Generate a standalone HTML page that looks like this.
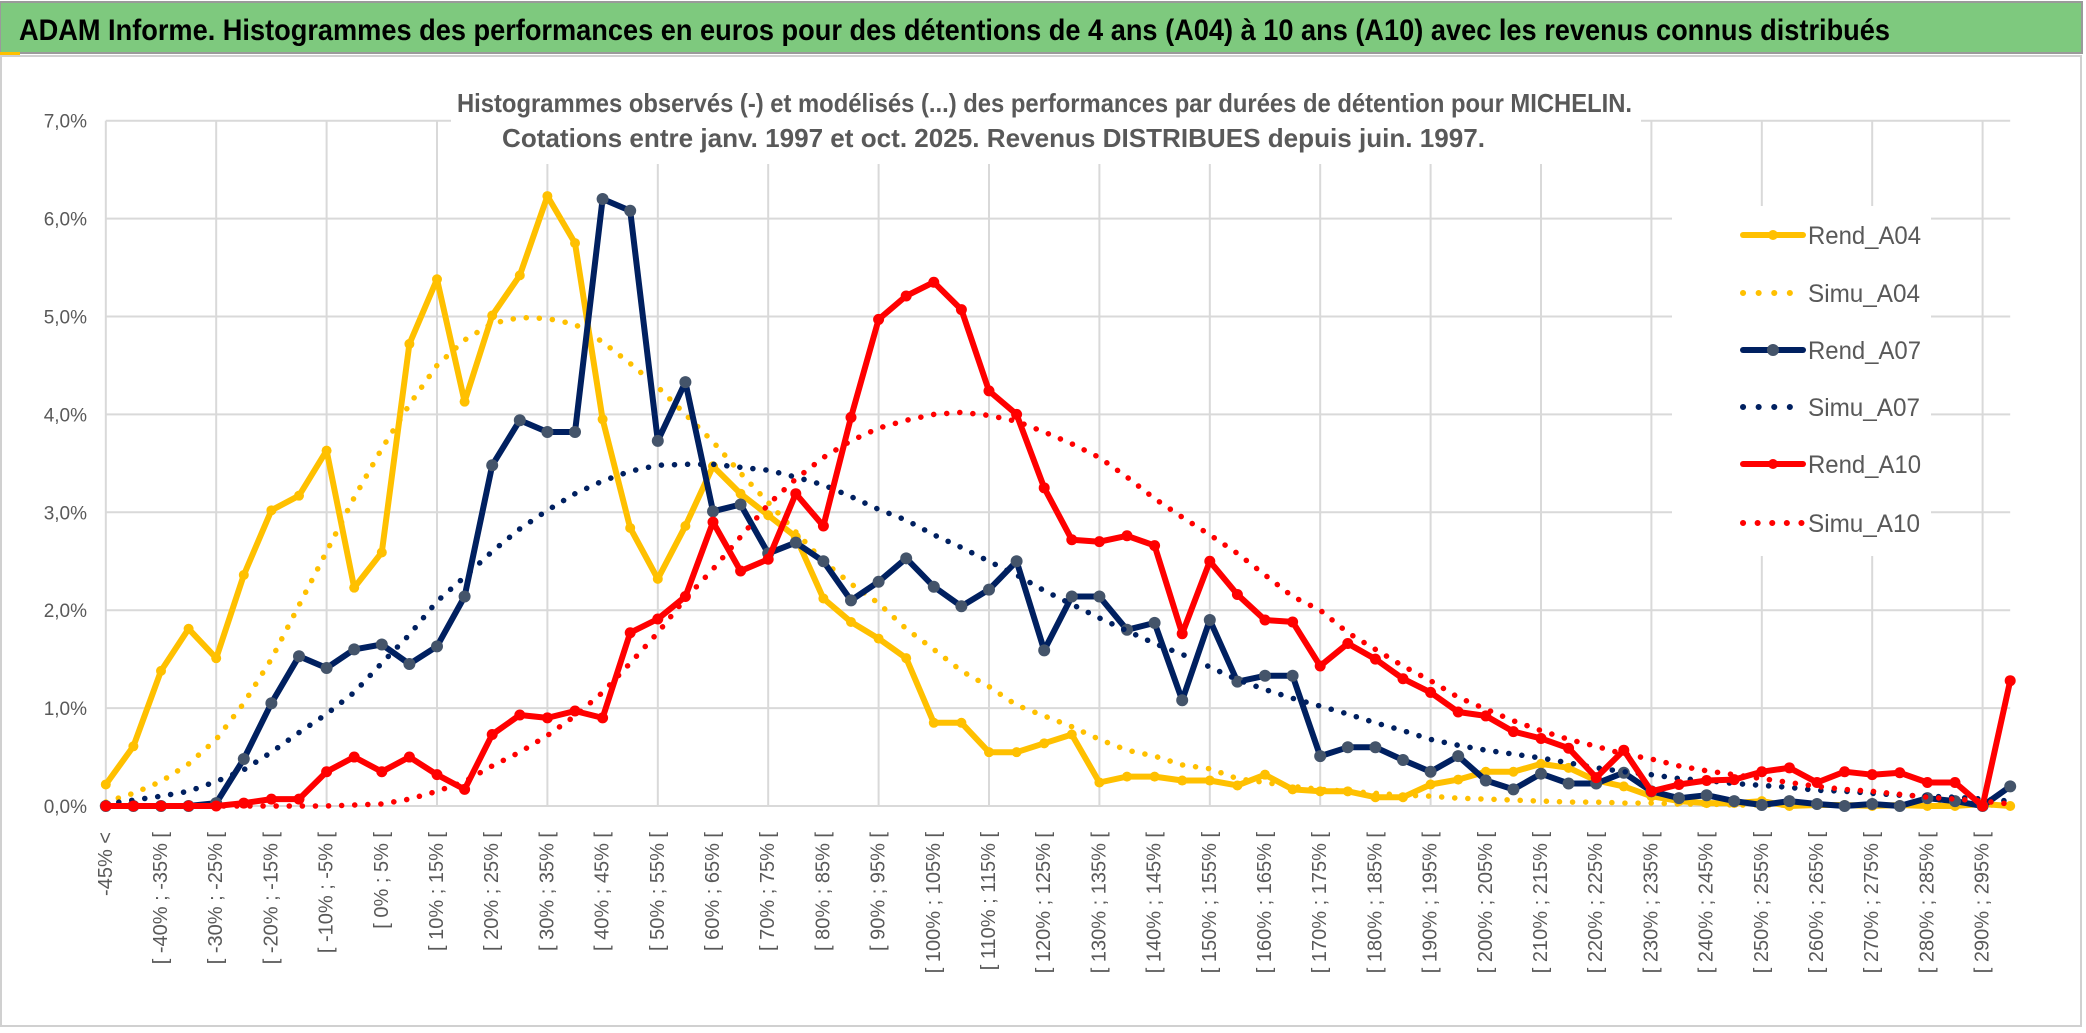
<!DOCTYPE html>
<html><head><meta charset="utf-8"><style>
html,body{margin:0;padding:0;background:#fff;}
svg{display:block;font-family:"Liberation Sans",sans-serif;}
</style></head><body>
<svg id="chart" width="2086" height="1033" viewBox="0 0 2086 1033" xmlns="http://www.w3.org/2000/svg">
<rect x="0" y="0" width="2086" height="1033" fill="#fff"/>
<rect x="0" y="2" width="2082" height="51" fill="#7ec97e" stroke="#9a9a9a" stroke-width="2"/>
<rect x="0" y="52" width="20" height="4" fill="#ffc000"/>
<text x="19" y="40" font-size="30" font-weight="bold" fill="#000" textLength="1871" lengthAdjust="spacingAndGlyphs">ADAM Informe. Histogrammes des performances en euros pour des détentions de 4 ans (A04) à 10 ans (A10) avec les revenus connus distribués</text>
<rect x="1" y="56" width="2080" height="970" fill="none" stroke="#d0d0d0" stroke-width="2"/>
<g id="grid"></g>
<rect x="451" y="80" width="1190" height="84" fill="#fff"/>
<rect x="1672" y="206" width="259" height="350" fill="#fff"/>
<text x="457" y="112" font-size="26" font-weight="bold" fill="#595959" textLength="1175" lengthAdjust="spacingAndGlyphs">Histogrammes observés (-) et modélisés (...) des performances par durées de détention pour MICHELIN.</text>
<text x="502" y="147" font-size="26" font-weight="bold" fill="#595959" textLength="983" lengthAdjust="spacingAndGlyphs">Cotations entre janv. 1997 et oct. 2025. Revenus DISTRIBUES depuis juin. 1997.</text>
<g id="yaxis"></g>
<g id="xaxis"></g>
<g id="series"></g>
<g id="legend">
 <g>
  <line x1="1743" y1="235" x2="1803" y2="235" stroke="#ffc000" stroke-width="6" stroke-linecap="round"/>
  <circle cx="1773" cy="235" r="5" fill="#ffc000"/>
  <text x="1808" y="244" font-size="25" fill="#595959" textLength="113" lengthAdjust="spacingAndGlyphs">Rend_A04</text>
 </g>
 <g>
  <line x1="1743" y1="293" x2="1790" y2="293" stroke="#ffc000" stroke-width="6" stroke-linecap="round" stroke-dasharray="0.1 15.5"/>
  <text x="1808" y="302" font-size="25" fill="#595959" textLength="112" lengthAdjust="spacingAndGlyphs">Simu_A04</text>
 </g>
 <g>
  <line x1="1743" y1="350" x2="1803" y2="350" stroke="#002060" stroke-width="6" stroke-linecap="round"/>
  <circle cx="1773" cy="350" r="6" fill="#44546a"/>
  <text x="1808" y="359" font-size="25" fill="#595959" textLength="113" lengthAdjust="spacingAndGlyphs">Rend_A07</text>
 </g>
 <g>
  <line x1="1743" y1="407" x2="1790" y2="407" stroke="#002060" stroke-width="6" stroke-linecap="round" stroke-dasharray="0.1 15.5"/>
  <text x="1808" y="416" font-size="25" fill="#595959" textLength="112" lengthAdjust="spacingAndGlyphs">Simu_A07</text>
 </g>
 <g>
  <line x1="1743" y1="464" x2="1803" y2="464" stroke="#ff0000" stroke-width="6" stroke-linecap="round"/>
  <circle cx="1773" cy="464" r="5" fill="#ff0000"/>
  <text x="1808" y="473" font-size="25" fill="#595959" textLength="113" lengthAdjust="spacingAndGlyphs">Rend_A10</text>
 </g>
 <g>
  <line x1="1743" y1="523" x2="1802" y2="523" stroke="#ff0000" stroke-width="6" stroke-linecap="round" stroke-dasharray="0.1 14.5"/>
  <text x="1808" y="532" font-size="25" fill="#595959" textLength="112" lengthAdjust="spacingAndGlyphs">Simu_A10</text>
 </g>
</g>
</svg>
<script>
const categories = ["-45% <","[ -45% ; -40% [","[ -40% ; -35% [","[ -35% ; -30% [","[ -30% ; -25% [","[ -25% ; -20% [","[ -20% ; -15% [","[ -15% ; -10% [","[ -10% ; -5% [","[ -5% ; 0% [",
"[ 0% ; 5% [","[ 5% ; 10% [","[ 10% ; 15% [","[ 15% ; 20% [","[ 20% ; 25% [","[ 25% ; 30% [","[ 30% ; 35% [","[ 35% ; 40% [","[ 40% ; 45% [","[ 45% ; 50% [",
"[ 50% ; 55% [","[ 55% ; 60% [","[ 60% ; 65% [","[ 65% ; 70% [","[ 70% ; 75% [","[ 75% ; 80% [","[ 80% ; 85% [","[ 85% ; 90% [","[ 90% ; 95% [","[ 95% ; 100% [",
"[ 100% ; 105% [","[ 105% ; 110% [","[ 110% ; 115% [","[ 115% ; 120% [","[ 120% ; 125% [","[ 125% ; 130% [","[ 130% ; 135% [","[ 135% ; 140% [","[ 140% ; 145% [","[ 145% ; 150% [",
"[ 150% ; 155% [","[ 155% ; 160% [","[ 160% ; 165% [","[ 165% ; 170% [","[ 170% ; 175% [","[ 175% ; 180% [","[ 180% ; 185% [","[ 185% ; 190% [","[ 190% ; 195% [","[ 195% ; 200% [",
"[ 200% ; 205% [","[ 205% ; 210% [","[ 210% ; 215% [","[ 215% ; 220% [","[ 220% ; 225% [","[ 225% ; 230% [","[ 230% ; 235% [","[ 235% ; 240% [","[ 240% ; 245% [","[ 245% ; 250% [",
"[ 250% ; 255% [","[ 255% ; 260% [","[ 260% ; 265% [","[ 265% ; 270% [","[ 270% ; 275% [","[ 275% ; 280% [","[ 280% ; 285% [","[ 285% ; 290% [","[ 290% ; 295% [","[ 295% ; 300% ["];
const yTicks = [0,1,2,3,4,5,6,7];
const yTickLabels = ["0,0%","1,0%","2,0%","3,0%","4,0%","5,0%","6,0%","7,0%"];
const rendA04 = [0.22,0.61,1.38,1.81,1.51,2.36,3.02,3.17,3.63,2.23,2.59,4.72,5.38,4.13,5.01,5.42,6.23,5.75,3.95,2.84,2.32,2.86,3.47,3.19,2.97,2.75,2.12,1.88,1.71,1.51,0.85,0.85,0.55,0.55,0.64,0.73,0.24,0.30,0.30,0.26,0.26,0.21,0.32,0.17,0.15,0.15,0.09,0.09,0.22,0.27,0.35,0.35,0.43,0.39,0.26,0.20,0.10,0.05,0.03,0.03,0.05,0.0,0.01,0.01,0.0,0.01,0.0,0.0,0.02,0.0];
const simuA04 = [0.04,0.13,0.25,0.43,0.68,1.05,1.5,2.05,2.6,3.15,3.65,4.1,4.5,4.76,4.93,4.99,4.98,4.92,4.74,4.52,4.28,4.0,3.72,3.4,3.1,2.8,2.5,2.27,2.07,1.81,1.6,1.38,1.22,1.03,0.92,0.81,0.68,0.57,0.51,0.42,0.38,0.28,0.24,0.2,0.17,0.15,0.13,0.11,0.1,0.08,0.07,0.06,0.05,0.04,0.04,0.03,0.03,0.02,0.02,0.01,0.01,0.01,0.01,0.01,0.01,0.01,0.01,0.01,0.01,0.01];
const rendA07 = [0,0,0,0,0.03,0.48,1.05,1.53,1.41,1.60,1.65,1.45,1.63,2.14,3.48,3.94,3.82,3.82,6.20,6.08,3.73,4.33,3.01,3.08,2.58,2.69,2.50,2.10,2.29,2.53,2.24,2.04,2.21,2.50,1.59,2.14,2.14,1.80,1.87,1.08,1.90,1.27,1.33,1.33,0.51,0.60,0.60,0.47,0.35,0.51,0.26,0.17,0.33,0.23,0.23,0.34,0.15,0.08,0.11,0.05,0.01,0.05,0.02,0.0,0.02,0.0,0.08,0.05,0.0,0.2];
const simuA07 = [0.02,0.06,0.1,0.15,0.25,0.37,0.55,0.75,0.94,1.16,1.46,1.75,2.09,2.34,2.6,2.83,3.02,3.19,3.32,3.42,3.48,3.49,3.49,3.46,3.43,3.36,3.28,3.16,3.03,2.92,2.77,2.64,2.5,2.36,2.2,2.06,1.92,1.79,1.66,1.55,1.42,1.29,1.19,1.1,1.02,0.94,0.85,0.77,0.68,0.62,0.57,0.53,0.49,0.44,0.39,0.35,0.32,0.28,0.26,0.23,0.21,0.19,0.16,0.15,0.13,0.11,0.1,0.09,0.07,0.05];
const rendA10 = [0,0,0,0,0,0.03,0.07,0.07,0.35,0.50,0.35,0.50,0.32,0.17,0.73,0.93,0.90,0.97,0.90,1.77,1.91,2.14,2.90,2.40,2.52,3.19,2.86,3.97,4.97,5.21,5.35,5.07,4.24,4.00,3.25,2.72,2.70,2.76,2.66,1.76,2.50,2.16,1.90,1.88,1.43,1.66,1.50,1.30,1.16,0.96,0.92,0.76,0.69,0.59,0.29,0.57,0.15,0.22,0.26,0.27,0.35,0.39,0.24,0.35,0.32,0.34,0.24,0.24,0.0,1.28];
const simuA10 = [0,0,0,0,0,0,0,0,0,0.01,0.02,0.07,0.15,0.25,0.41,0.55,0.72,0.92,1.16,1.46,1.77,2.12,2.42,2.75,3.08,3.34,3.56,3.73,3.86,3.94,4.0,4.02,3.99,3.93,3.82,3.7,3.56,3.36,3.14,2.95,2.77,2.58,2.36,2.14,2.0,1.77,1.6,1.43,1.28,1.11,0.99,0.87,0.77,0.68,0.61,0.53,0.48,0.41,0.36,0.32,0.28,0.24,0.2,0.17,0.15,0.12,0.09,0.07,0.05,0.02];

const NS = "http://www.w3.org/2000/svg";
const X0 = 105.8, STEP = 27.6, Y0 = 806, YUNIT = 97.9;
function xPos(i){ return X0 + i*STEP; }
function yPos(v){ return Y0 - v*YUNIT; }
function mk(tag, attrs, parent){ const e=document.createElementNS(NS,tag); for(const k in attrs) e.setAttribute(k, attrs[k]); parent.appendChild(e); return e; }

const grid = document.getElementById('grid');
const xEnd = xPos(categories.length-1);
yTicks.forEach(function(t){
  const l = mk('line',{x1:X0,x2:xEnd,y1:yPos(t),y2:yPos(t),stroke:'#d9d9d9','stroke-width':2},grid);
  
  
});
categories.forEach(function(c,i){
  if(i%4===0){
    const l = mk('line',{x1:xPos(i),x2:xPos(i),y1:yPos(7),y2:Y0,stroke:'#d9d9d9','stroke-width':2},grid);
    
    
  }
});

const yaxis = document.getElementById('yaxis');
yTicks.forEach(function(t,i){
  const tx = mk('text',{x:87,y:yPos(t)+7,'text-anchor':'end','font-size':19,fill:'#595959'},yaxis);
  tx.textContent = yTickLabels[i];
  
  
});

const xaxis = document.getElementById('xaxis');
categories.forEach(function(c,i){
  if(i%2===0){
    const x = xPos(i), y = 832;
    const tx = mk('text',{x:x,y:y,'text-anchor':'end','dominant-baseline':'central','font-size':20,fill:'#595959',transform:'rotate(-90 '+x+' '+y+')'},xaxis);
    tx.textContent = c;
    
    
  }
});

const layer = document.getElementById('series');
function drawSeries(values, color, dotted, markerFill, markerR, name){
  const g = mk('g',{},layer);
  
  
  const pts = values.map(function(v,i){ return xPos(i).toFixed(1)+','+yPos(v).toFixed(1); }).join(' ');
  const attrs = {points:pts,fill:'none',stroke:color,'stroke-linejoin':'round','stroke-linecap':'round'};
  if(dotted){ attrs['stroke-width']=5.5; attrs['stroke-dasharray']='0.1 13'; }
  else { attrs['stroke-width']=6; }
  const pl = mk('polyline',attrs,g);
  
  
  if(!dotted){
    values.forEach(function(v,i){
      const c = mk('circle',{cx:xPos(i),cy:yPos(v),r:markerR,fill:markerFill},g);
      
      
    });
  }
}
drawSeries(rendA04,'#ffc000',false,'#ffc000',5,'rend-a04');
drawSeries(simuA04,'#ffc000',true,null,0,'simu-a04');
drawSeries(rendA07,'#002060',false,'#44546a',6,'rend-a07');
drawSeries(simuA07,'#002060',true,null,0,'simu-a07');
drawSeries(rendA10,'#ff0000',false,'#ff0000',5.5,'rend-a10');
drawSeries(simuA10,'#ff0000',true,null,0,'simu-a10');
</script>
</body></html>
